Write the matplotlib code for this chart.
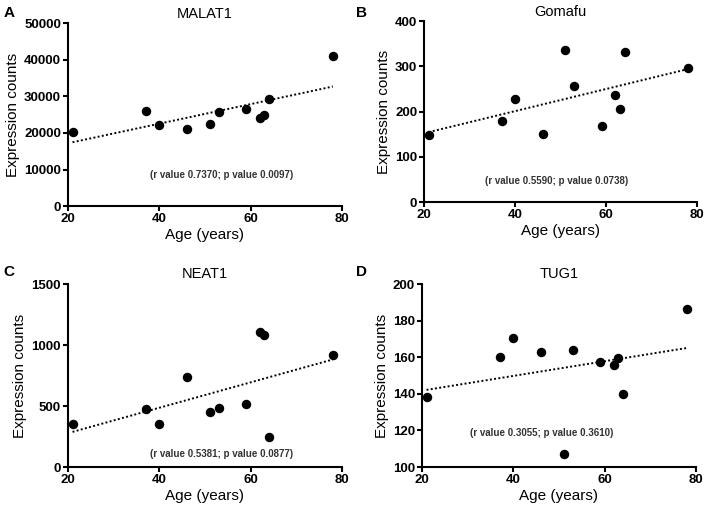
import numpy as np
import matplotlib
matplotlib.use("Agg")
import matplotlib.pyplot as plt

plt.rcParams['font.family'] = ['Liberation Sans', 'DejaVu Sans']

# edad de cada muestra (igual en los 4 paneles)
age = [21, 37, 40, 46, 51, 53, 59, 62, 63, 64, 78]

malat1 = [20300, 26000, 22300, 21100, 22400, 25700, 26400, 24200, 25000, 29200, 41000]
gomafu = [149, 179, 228, 151, 336, 257, 168, 237, 205, 332, 297]
neat1 = [355, 475, 350, 740, 455, 485, 515, 1110, 1085, 250, 920]
tug1 = [138, 160, 170.5, 163, 107, 164, 157.5, 155.5, 159.5, 140, 186.5]

titles = ["MALAT1", "Gomafu", "NEAT1", "TUG1"]
letters = ["A", "B", "C", "D"]
stats = ["(r value 0.7370; p value 0.0097)",
         "(r value 0.5590; p value 0.0738)",
         "(r value 0.5381; p value 0.0877)",
         "(r value 0.3055; p value 0.3610)"]
ylims = [(0, 50000), (0, 400), (0, 1500), (100, 200)]
yticks = [[0, 10000, 20000, 30000, 40000, 50000],
          [0, 100, 200, 300, 400],
          [0, 500, 1000, 1500],
          [100, 120, 140, 160, 180, 200]]
stat_pos = [(53.7, 8500), (49.2, 46), (53.7, 107), (46.3, 118.6)]

series = [malat1, gomafu, neat1, tug1]

# posiciones de los ejes en fracción de figura
boxes = [
    [0.096, 0.599, 0.387, 0.356],
    [0.599, 0.607, 0.386, 0.352],
    [0.096, 0.0914, 0.387, 0.356],
    [0.596, 0.0914, 0.387, 0.356],
]

fig = plt.figure(figsize=(7.08, 5.14), dpi=100)

for i in range(4):
    ax = fig.add_axes(boxes[i])
    y = series[i]
    ax.plot(age, y, 'o', color='black', ms=5.8, zorder=3, clip_on=False)

    # recta de regresión
    m, b = np.polyfit(age, y, 1)
    xs = np.array([min(age), max(age)])
    ax.plot(xs, m * xs + b, linestyle=(0, (1, 1.2)), color='black', lw=1.4)

    ax.set_xlim(20, 80)
    ax.set_ylim(*ylims[i])
    ax.set_xticks([20, 40, 60, 80])
    ax.set_yticks(yticks[i])
    for s in ['top', 'right']:
        ax.spines[s].set_visible(False)
    for s in ['left', 'bottom']:
        ax.spines[s].set_linewidth(1.5)
    ax.tick_params(width=1.5, length=3.5, labelsize=9.5, pad=1.5)
    for lab in ax.get_xticklabels() + ax.get_yticklabels():
        lab.set_fontweight('bold')

    ax.set_xlabel("Age (years)", fontsize=11, labelpad=2)
    ax.set_ylabel("Expression counts", fontsize=11, labelpad=3)
    ax.set_title(titles[i], fontsize=10.5, pad=4)
    ax.text(stat_pos[i][0], stat_pos[i][1], stats[i], fontsize=7, fontweight='bold',
            color='#333333', ha='center', va='center')

letter_pos = [(0.005, 0.975), (0.503, 0.975), (0.005, 0.47), (0.503, 0.47)]
for i in range(4):
    fig.text(letter_pos[i][0], letter_pos[i][1], letters[i], fontsize=11,
             fontweight='bold', va='center')

fig.savefig("out.png", dpi=100)
